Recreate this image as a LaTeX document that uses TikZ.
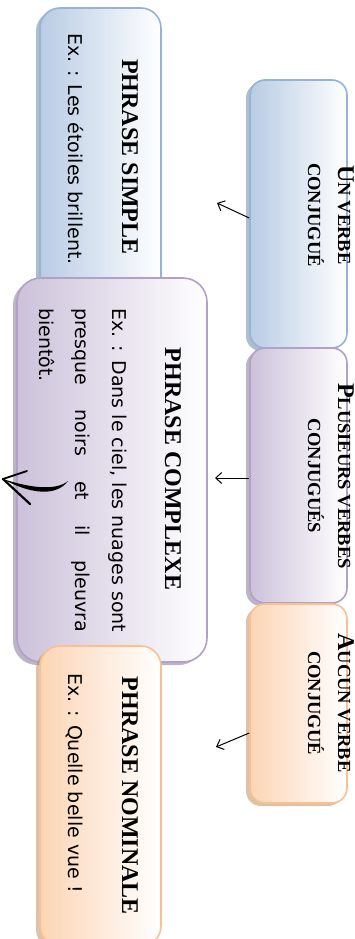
\documentclass[tikz,border=0pt]{standalone}
\usepackage{fontspec}
\usetikzlibrary{shadows,arrows.meta}
\setmainfont{Liberation Serif}
\newfontfamily\exfont{DejaVu Sans}
\newcommand{\pc}[1]{{\fontsize{18.5}{20}\selectfont #1}}

\definecolor{bleu}{HTML}{B8CCE4}
\definecolor{bleubord}{HTML}{95B3D7}
\definecolor{mauve}{HTML}{CCC1DA}
\definecolor{mauvebord}{HTML}{B2A1C7}
\definecolor{peche}{HTML}{FCD5B5}
\definecolor{pechebord}{HTML}{FAC090}

\begin{document}
\begin{tikzpicture}[x=1pt,y=-1pt,
  boite/.style 2 args={draw=#2, line width=1.6pt, left color=#1, right color=white,
    drop shadow={shadow xshift=-4pt, shadow yshift=-3pt, fill=#2!75!black, opacity=.55}},
  titre/.style={font=\bfseries\fontsize{24}{30}\selectfont, rotate=-90, inner sep=0pt, align=center},
  exemple/.style={font=\exfont\fontsize{19}{36.5}\selectfont, rotate=-90, inner sep=0pt},
  fleche/.style={-{Straight Barb[length=6pt,width=11pt]}, line width=1pt}]
\useasboundingbox (0,0) rectangle (355,939);

% Small boxes
\node[boite={bleu}{bleubord}, rounded corners=15pt, minimum width=97pt, minimum height=268pt] (un) at (298.5,214) {};
\node[boite={mauve}{mauvebord}, rounded corners=15pt, minimum width=97pt, minimum height=255pt] (plusieurs) at (298.5,475.5) {};
\node[boite={peche}{pechebord}, rounded corners=15pt, minimum width=97pt, minimum height=199pt] (aucun) at (298.5,703.5) {};

\node[titre, anchor=base] (tun) at (308,215) {U\pc{N VERBE}\\\pc{CONJUGUÉ}};
\node[titre, anchor=base] (tplusieurs) at (308,476) {P\pc{LUSIEURS VERBES}\\\pc{CONJUGUÉS}};
\node[titre, anchor=base] (taucun) at (308,703) {A\pc{UCUN VERBE}\\\pc{CONJUGUÉ}};

% Big boxes
\node[boite={bleu}{bleubord}, rounded corners=20pt, minimum width=121pt, minimum height=298pt] (simple) at (100.5,157) {};
\node[titre, anchor=base] (tsimple) at (122,157) {PHRASE SIMPLE};
\node[exemple, anchor=base west] (esimple) at (68,33) {Ex. : Les étoiles brillent.};

\node[boite={mauve}{mauvebord}, rounded corners=24pt, minimum width=190pt, minimum height=384pt] (complexe) at (112,470) {};
\node[titre, anchor=base] (tcomplexe) at (165,469) {PHRASE COMPLEXE};
\node[exemple, anchor=base west, text width=324pt, align=justify] (ecomplexe) at (112,308)
  {Ex. : Dans le ciel, les nuages sont\linebreak presque noirs et il pleuvra\linebreak bientôt.};

\node[boite={peche}{pechebord}, rounded corners=20pt, minimum width=121pt, minimum height=300pt] (nominale) at (100.5,796) {};
\node[titre, anchor=base] (tnominale) at (122,796) {PHRASE NOMINALE};
\node[exemple, anchor=base west] (enominale) at (68,673) {Ex. : Quelle belle vue !};

% Arrows
\coordinate (pa) at (217,203);
\coordinate (pb) at (215,478);
\coordinate (pc) at (216,747);
\draw[fleche] ([yshift=-4pt]un.west) -- (pa);
\draw[fleche] ([yshift=-2.5pt]plusieurs.west) -- (pb);
\draw[fleche] ([yshift=-29.5pt]aucun.west) -- (pc);

% brush arrow
\coordinate (pointe) at (3,479);
\fill (68,481) .. controls (56,497) and (30,494) .. (pointe) .. controls (30,488) and (56,491) .. (68,481);
\draw[line width=1.8pt, line cap=round] (pointe) -- (27,471);
\draw[line width=2.2pt, line cap=round] (pointe) -- (30,504);
\end{tikzpicture}
\end{document}
